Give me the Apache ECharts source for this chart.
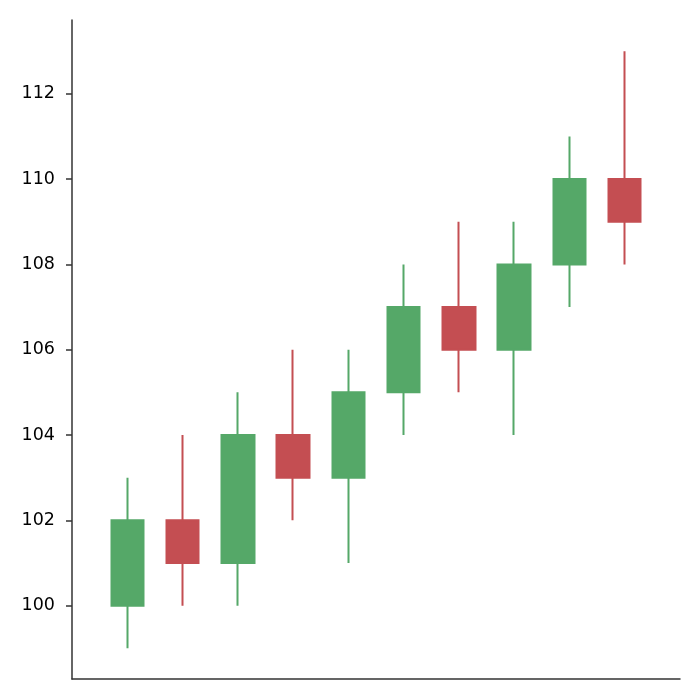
<!DOCTYPE html>
<html>
<head>
<meta charset="utf-8">
<script src="https://cdn.jsdelivr.net/npm/echarts@6/dist/echarts.min.js"></script>
<style>
  html, body { margin: 0; padding: 0; background: #fff; }
  #chart { width: 700px; height: 700px; }
</style>
</head>
<body>
<div id="chart"></div>
<script>
// padded categories so the candles sit like the original (x from 0 to 11)
const categories = ['', 'D1', 'D2', 'D3', 'D4', 'D5', 'D6', 'D7', 'D8', 'D9', 'D10', ''];
// [open, close, low, high]
const ohlc = [
  '-',
  [100, 102, 99, 103],
  [102, 101, 100, 104],
  [101, 104, 100, 105],
  [104, 103, 102, 106],
  [103, 105, 101, 106],
  [105, 107, 104, 108],
  [107, 106, 105, 109],
  [106, 108, 104, 109],
  [108, 110, 107, 111],
  [110, 109, 108, 113],
  '-'
];
const yTicks = [100, 102, 104, 106, 108, 110, 112];

const upColor = '#55a868';
const downColor = '#c44e52';
const axisColor = '#333333';

const chart = echarts.init(document.getElementById('chart'));

const option = {
  animation: false,
  grid: { left: 72, right: 20, top: 20, bottom: 21 },
  xAxis: {
    type: 'category',
    data: categories,
    boundaryGap: false,
    axisLine: { lineStyle: { color: axisColor, width: 1.5 } },
    axisTick: { show: false },
    axisLabel: { show: false },
    splitLine: { show: false }
  },
  yAxis: {
    type: 'value',
    min: 98.28,
    max: 113.73,
    axisLine: { show: true, lineStyle: { color: axisColor, width: 1.5 } },
    axisTick: {
      show: true,
      length: 6,
      customValues: yTicks,
      lineStyle: { color: axisColor, width: 1.5 }
    },
    axisLabel: {
      customValues: yTicks,
      margin: 17,
      color: '#000',
      fontSize: 17.5,
      fontFamily: 'DejaVu Sans'
    },
    splitLine: { show: false }
  },
  series: [
    {
      type: 'candlestick',
      data: ohlc,
      barWidth: 33,
      itemStyle: {
        color: upColor,
        color0: downColor,
        borderColor: upColor,
        borderColor0: downColor,
        borderWidth: 2
      }
    }
  ]
};

chart.setOption(option);
</script>
</body>
</html>
